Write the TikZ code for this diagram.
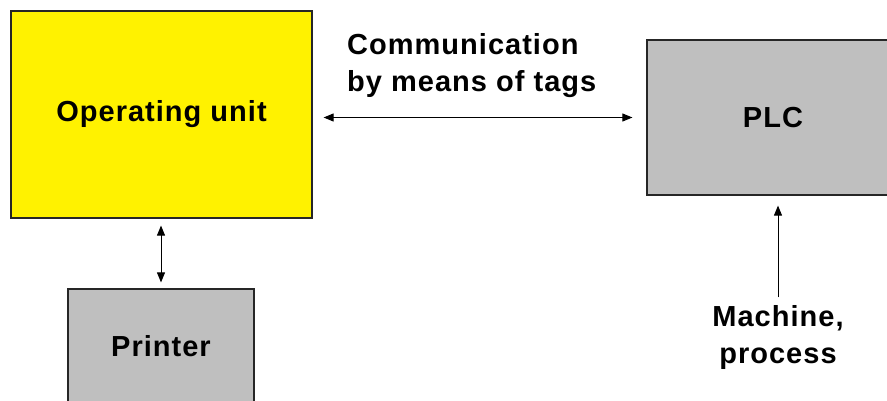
\documentclass[tikz,border=0pt]{standalone}
\usepackage{fontspec}
\setmainfont[LetterSpace=3.5]{Liberation Sans}
\usepackage{tikz}
\usetikzlibrary{arrows.meta, positioning}

\tikzset{
    block/.style={draw=black!85, line width=1.2pt, rectangle, inner sep=0pt},
    link/.style={line width=1pt, {Triangle[length=10pt,width=8pt]}-{Triangle[length=10pt,width=8pt]}},
    feed/.style={line width=1pt, -{Triangle[length=10pt,width=8pt]}}
}

\begin{document}
\begin{tikzpicture}[x=1pt, y=-1pt, font=\fontsize{29}{37}\selectfont\bfseries]
    \useasboundingbox (0,0) rectangle (887,401);
    \clip (0,0) rectangle (887,401);
    % 三个设备框
    \node[block, minimum width=301pt, minimum height=207pt, fill=yellow] (oper) at (161.5,114.5) {Operating unit};
    \node[block, minimum width=252pt, minimum height=155pt, fill=black!25] (plc) at (773,117.5) {PLC};
    \node[block, minimum width=186pt, minimum height=114pt, fill=black!25] (printer) at (161,346) {Printer};
    % 文字说明
    \node[align=left, anchor=west, inner sep=0pt] (comm) at (347,66) {Communication\\by means of tags};
    \node[align=center] (mach) at (778,338) {Machine,\\process};
    % 箭头
    \draw[link, shorten <=11pt, shorten >=14pt] (oper.east |- plc.west) -- (plc.west);
    \draw[link, shorten <=7pt, shorten >=6pt] (oper.south -| printer.north) -- (printer.north);
    \draw[feed, shorten <=5pt, shorten >=10pt] (mach.north) -- (mach.north |- plc.south);
\end{tikzpicture}
\end{document}
